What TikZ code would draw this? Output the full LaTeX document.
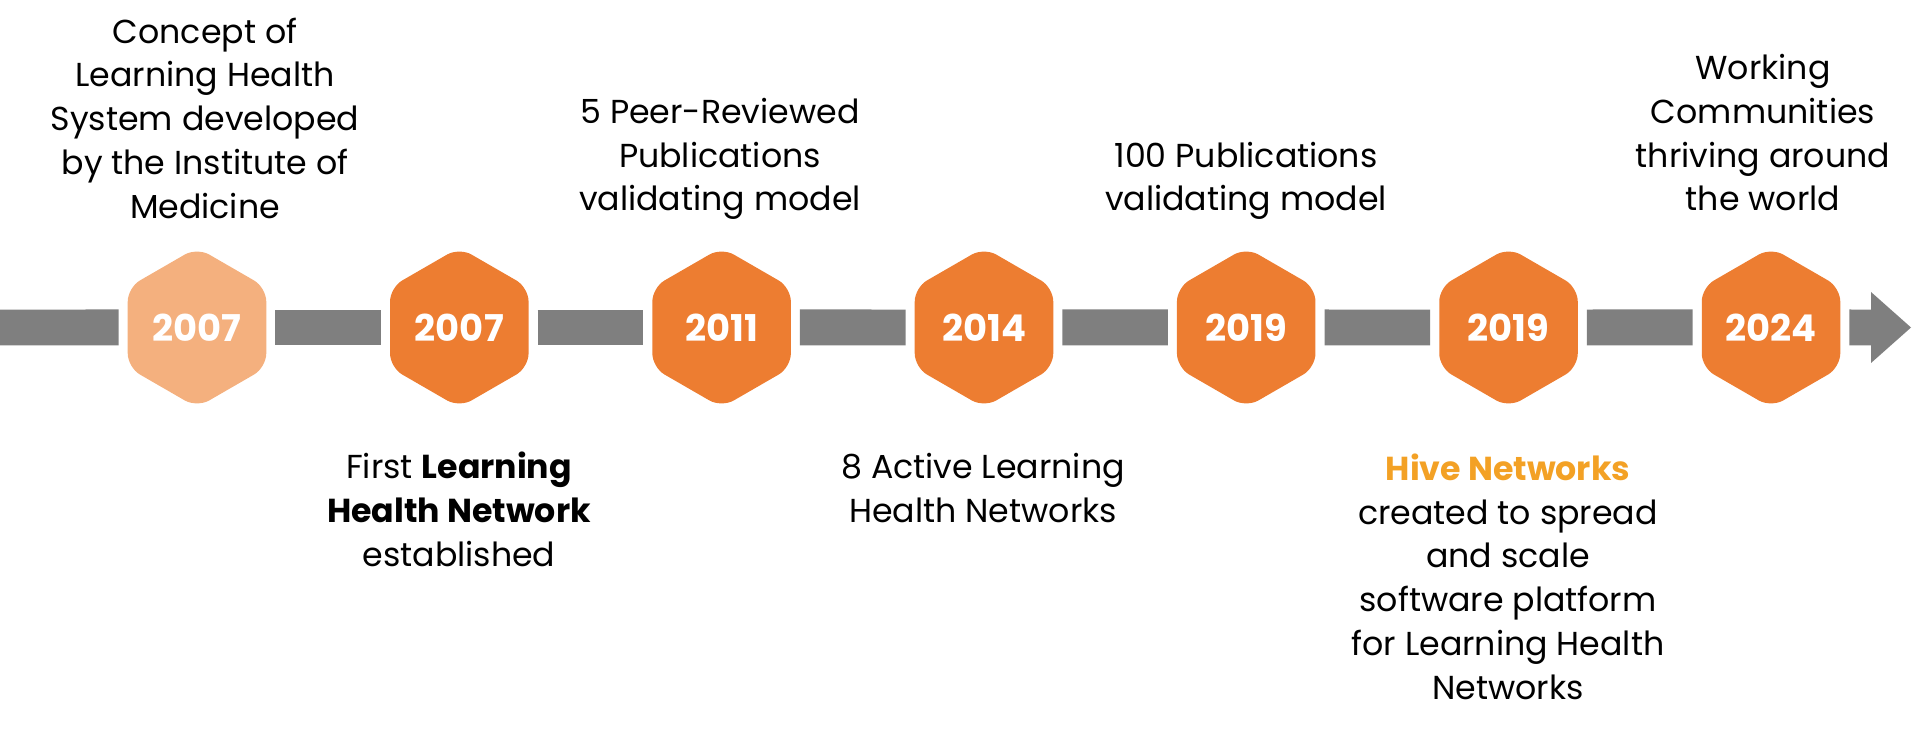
\documentclass[tikz,border=0pt]{standalone}
\usepackage{fontspec}
\setmainfont{Poppins}
\usepackage{tikz}
\usetikzlibrary{shapes.geometric,positioning}
\usepackage{xcolor}
\newcommand{\myunit}{0.02cm}
\definecolor{hexorange}{RGB}{237,125,49}
\definecolor{hexlight}{RGB}{244,176,126}
\definecolor{bargray}{RGB}{127,127,127}
\definecolor{hivegold}{RGB}{243,161,37}
\tikzset{
    hexsty/.style={regular polygon, regular polygon sides=6, shape border rotate=30, fill=hexorange, minimum size=3.2cm, inner sep=0pt, outer sep=0.18cm, rounded corners=0.28cm, text=white, font=\fontsize{21}{25}\selectfont\bfseries},
    lhexsty/.style={hexsty, fill=hexlight},
    barsty/.style={draw=bargray, line width=0.72cm},
    descsty/.style={align=center, anchor=base, inner sep=0pt, font=\fontsize{18.9}{24.95}\selectfont},
}

\begin{document}
\begin{tikzpicture}[x=\myunit, y=-\myunit]
  \useasboundingbox (0,0) rectangle (1920,729);

  % year hexagons
  \node[lhexsty] (H1) at (197,327.5)    {2007};
  \node[hexsty]  (H2) at (459.3,327.5)  {2007};
  \node[hexsty]  (H3) at (721.6,327.5)  {2011};
  \node[hexsty]  (H4) at (984,327.5)    {2014};
  \node[hexsty]  (H5) at (1246.2,327.5) {2019};
  \node[hexsty]  (H6) at (1508.5,327.5) {2019};
  \node[hexsty]  (H7) at (1771,327.5)   {2024};

  % time line
  \coordinate (start) at (0,327.5);
  \coordinate (head)  at (1871,327.5);
  \coordinate (tip)   at (1911,327.5);
  \draw[barsty] (start) -- (H1);
  \foreach \a/\b in {H1/H2,H2/H3,H3/H4,H4/H5,H5/H6,H6/H7}
    \draw[barsty] (\a) -- (\b);
  \draw[barsty] (H7) -- (head);
  \fill[bargray] (tip) -- ++(-40,-35.5) -- ++(0,71) -- cycle;

  % texts above (placed at the last baseline)
  \node[descsty] (T1) at (205,218.5)  {Concept of\\Learning Health\\System developed\\by the Institute of\\Medicine};
  \node[descsty] (T3) at (720,211)    {5 Peer-Reviewed\\Publications\\validating model};
  \node[descsty] (T5) at (1246,211)   {100 Publications\\validating model};
  \node[descsty] (T7) at (1763,211)   {Working\\Communities\\thriving around\\the world};

  % texts below
  \node[descsty] (T2) at (459,566)    {First \textbf{Learning}\\\textbf{Health Network}\\established};
  \node[descsty] (T4) at (983,522.5)  {8 Active Learning\\Health Networks};
  \node[descsty] (T6) at (1508,699.5) {\textcolor{hivegold}{\textbf{Hive Networks}}\\created to spread\\and scale\\software platform\\for Learning Health\\Networks};
\end{tikzpicture}
\end{document}
